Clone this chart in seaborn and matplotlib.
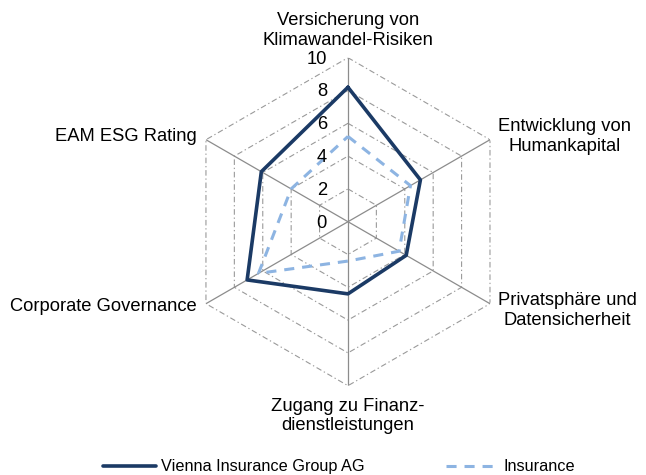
import numpy as np
import pandas as pd
import seaborn as sns
import matplotlib.pyplot as plt
from matplotlib.transforms import offset_copy

# data
categories = ["Versicherung von\nKlimawandel-Risiken", "Entwicklung von\nHumankapital",
              "Privatsphäre und\nDatensicherheit", "Zugang zu Finanz-\ndienstleistungen",
              "Corporate Governance", "EAM ESG Rating"]
vig = [8.2, 5.1, 4.1, 4.4, 7.1, 6.1]
insurance = [5.2, 4.4, 3.6, 2.4, 6.3, 4.0]
series_names = ["Vienna Insurance Group AG", "Insurance"]
r_ticks = [0, 2, 4, 6, 8, 10]

sns.set_style("white")
plt.rcParams['font.family'] = ['Liberation Sans', 'DejaVu Sans']
plt.rcParams['text.color'] = 'black'

n = len(categories)
angles = np.linspace(0, 2 * np.pi, n, endpoint=False)
angles_closed = np.append(angles, 2 * np.pi)

# long table, first point repeated to close each polygon
rows = []
for name, vals in zip(series_names, [vig, insurance]):
    for a, v in zip(angles_closed, vals + vals[:1]):
        rows.append({"angle": a, "value": v, "series": name})
df = pd.DataFrame(rows)

fig = plt.figure(figsize=(6.46, 4.75), dpi=100)
ax = fig.add_axes([0.2848, 0.188, 0.5077, 0.6905], projection='polar')
ax.set_theta_offset(np.pi / 2)
ax.set_theta_direction(-1)
ax.set_ylim(0, 10)
ax.grid(False)
ax.spines['polar'].set_visible(False)
ax.set_xticks([])
ax.set_yticks([])

# hexagon grid + spokes
for r in r_ticks[1:]:
    ax.plot(angles_closed, [r] * (n + 1), color='#9a9a9a', lw=0.8,
            linestyle=(0, (5, 2.5, 1.2, 2.5)), zorder=1)
for a in angles:
    ax.plot([a, a], [0, 10], color='#8c8c8c', lw=0.9, zorder=1)

colors = {"Vienna Insurance Group AG": "#1B3A65", "Insurance": "#8DB4E2"}
dashes = {"Vienna Insurance Group AG": "", "Insurance": (3.3, 2.6)}
sns.lineplot(data=df, x='angle', y='value', hue='series', style='series',
             palette=colors, dashes=dashes, sort=False, estimator=None,
             legend=False, ax=ax, zorder=3)
data_lines = ax.lines[-2:]
data_lines[0].set_linewidth(2.6)
data_lines[1].set_linewidth(2.2)
ax.set_xlabel('')
ax.set_ylabel('')

# radial tick labels along the top spoke
for r in r_ticks:
    tr = offset_copy(ax.transData, fig=fig, x=-21, y=-1.3, units='dots')
    ax.text(0, r, str(r), ha='right', va='center', fontsize=13.2,
            color='black', transform=tr, clip_on=False)

# category labels around the chart
label_pos = [
    (0, 27.5, 'center'),
    (8.5, 3, 'left'),
    (7.6, -6.6, 'left'),
    (0, -30.3, 'center'),
    (-9, -3.3, 'right'),
    (-9, 3.4, 'right'),
]
for a, lab, (dx, dy, ha) in zip(angles, categories, label_pos):
    tr = offset_copy(ax.transData, fig=fig, x=dx, y=dy, units='dots')
    ax.text(a, 10, lab, ha=ha, va='center', multialignment='center',
            fontsize=13.2, color='black', transform=tr, clip_on=False)

leg = fig.legend(data_lines, series_names, loc='center',
                 bbox_to_anchor=(339 / 646, 1 - 466.7 / 475), ncol=2, frameon=False,
                 handlelength=3.25, handletextpad=0.3, columnspacing=5.0,
                 fontsize=11.7)
for t in leg.get_texts():
    t.set_color('black')

fig.savefig("out.png", dpi=100)
